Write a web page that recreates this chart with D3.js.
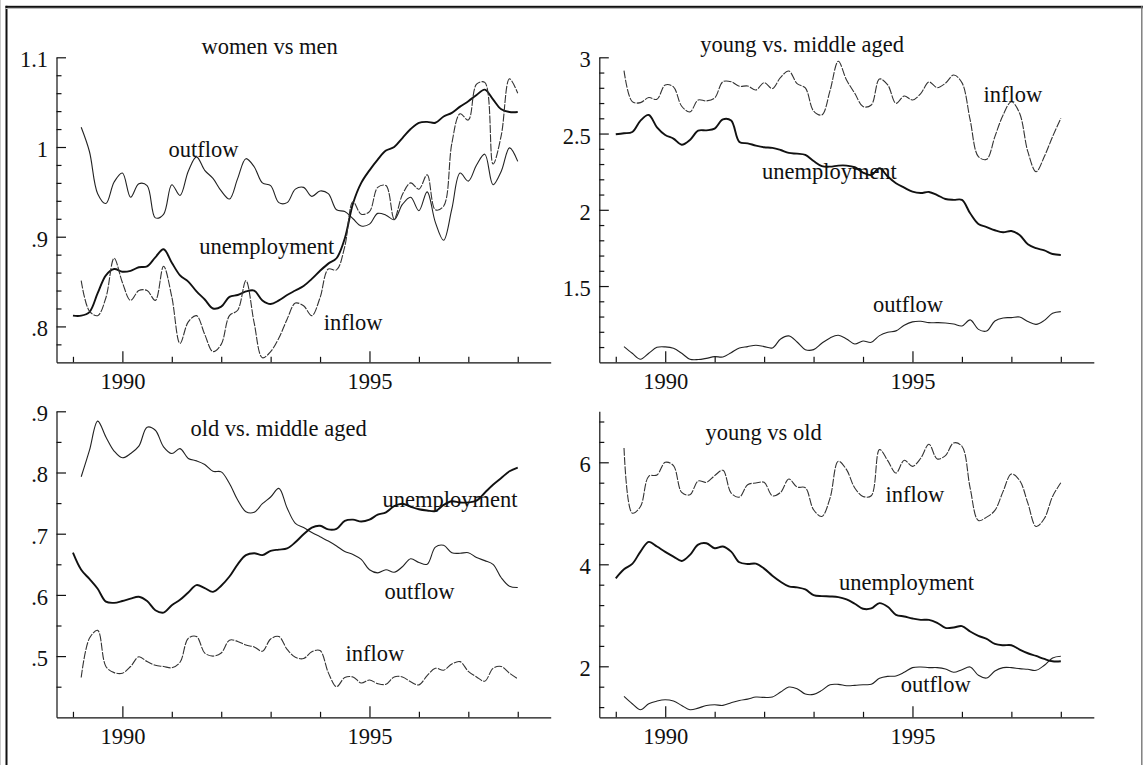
<!DOCTYPE html>
<html>
<head>
<meta charset="utf-8">
<script src="https://cdn.jsdelivr.net/npm/d3@7"></script>
<style>
  body { margin: 0; background: #fff; }
  svg { display: block; }
  text { font-family: "Liberation Serif", "Times New Roman", serif; font-size: 22.5px; fill: #111; }
</style>
</head>
<body>
<script>
// sample dates: every second month, Jan 1989 .. Jan 1998
const years = d3.range(55).map(k => 1989 + k / 6);

// women vs men
const wmUnemp = [.812,.812,.816,.837,.857,.864,.861,.862,.866,.867,.877,.886,.871,.857,.850,.839,.830,.820,.822,.833,.835,.839,.840,.829,.825,.829,.835,.840,.845,.853,.862,.870,.876,.898,.937,.960,.974,.986,.996,1.000,1.010,1.020,1.027,1.028,1.027,1.034,1.038,1.045,1.051,1.058,1.064,1.053,1.042,1.039,1.039];
const wmOutflow = [null,1.022,.995,.948,.937,.961,.971,.944,.959,.957,.921,.925,.958,.946,.973,.989,.974,.965,.951,.942,.965,.987,.978,.960,.957,.938,.938,.953,.955,.945,.951,.948,.930,.928,.920,.912,.914,.926,.924,.919,.936,.944,.929,.950,.916,.896,.931,.971,.962,.980,.992,.958,.973,.999,.984];
const wmInflow = [null,.851,.817,.812,.832,.876,.849,.829,.840,.840,.829,.867,.833,.781,.805,.812,.791,.772,.780,.812,.818,.851,.804,.765,.772,.787,.808,.826,.823,.812,.832,.864,.863,.889,.939,.925,.928,.955,.957,.920,.947,.960,.953,.969,.930,.934,1.004,1.037,1.030,1.070,1.072,.981,1.013,1.076,1.060];

// young vs. middle aged
const ymUnemp = [2.495,2.502,2.510,2.585,2.622,2.541,2.491,2.467,2.427,2.458,2.519,2.521,2.532,2.593,2.585,2.445,2.436,2.421,2.410,2.406,2.392,2.373,2.368,2.360,2.320,2.287,2.283,2.290,2.290,2.279,2.244,2.228,2.272,2.218,2.174,2.145,2.119,2.110,2.117,2.097,2.071,2.065,2.065,1.977,1.907,1.887,1.866,1.853,1.861,1.835,1.774,1.748,1.734,1.710,1.704];
const ymOutflow = [null,1.103,1.059,1.020,1.059,1.098,1.101,1.092,1.059,1.020,1.018,1.026,1.037,1.035,1.063,1.094,1.103,1.112,1.103,1.094,1.153,1.173,1.133,1.083,1.083,1.125,1.160,1.177,1.153,1.120,1.140,1.131,1.175,1.197,1.206,1.243,1.265,1.269,1.260,1.260,1.258,1.251,1.238,1.278,1.216,1.205,1.271,1.291,1.293,1.297,1.267,1.249,1.275,1.321,1.332];
const ymInflow = [null,2.913,2.709,2.703,2.736,2.725,2.819,2.806,2.679,2.642,2.720,2.714,2.733,2.840,2.840,2.810,2.812,2.786,2.834,2.795,2.869,2.910,2.827,2.799,2.648,2.622,2.781,2.974,2.851,2.764,2.677,2.687,2.858,2.819,2.698,2.746,2.720,2.762,2.838,2.801,2.830,2.884,2.834,2.589,2.349,2.331,2.480,2.622,2.709,2.633,2.381,2.250,2.349,2.480,2.600];

// old vs. middle aged
const omUnemp = [.669,.641,.626,.610,.589,.587,.590,.594,.597,.590,.575,.571,.583,.592,.604,.616,.611,.605,.615,.630,.650,.665,.668,.665,.672,.674,.676,.686,.699,.710,.713,.707,.708,.721,.723,.720,.723,.731,.735,.745,.749,.744,.740,.738,.737,.747,.753,.751,.751,.754,.767,.780,.791,.802,.808];
const omOutflow = [null,.793,.836,.884,.858,.835,.824,.831,.843,.874,.869,.842,.831,.839,.823,.819,.813,.802,.801,.782,.755,.736,.735,.749,.760,.774,.742,.717,.710,.702,.695,.688,.680,.671,.666,.658,.641,.636,.641,.637,.646,.659,.653,.650,.678,.681,.669,.668,.669,.661,.656,.650,.628,.614,.612];
const omInflow = [null,.465,.529,.542,.483,.473,.472,.483,.499,.491,.485,.483,.481,.490,.529,.532,.505,.500,.505,.526,.524,.518,.515,.508,.528,.532,.511,.498,.496,.507,.509,.473,.450,.465,.466,.456,.461,.455,.454,.466,.466,.458,.453,.468,.480,.477,.487,.491,.475,.466,.459,.480,.483,.472,.463];

// young vs old
const yoUnemp = [3.725,3.902,4.007,4.249,4.439,4.348,4.243,4.151,4.066,4.184,4.387,4.413,4.315,4.348,4.249,4.039,4.007,4.013,3.915,3.777,3.659,3.567,3.548,3.508,3.397,3.377,3.370,3.357,3.311,3.226,3.128,3.134,3.239,3.167,3.010,2.977,2.938,2.911,2.911,2.852,2.754,2.761,2.787,2.682,2.597,2.538,2.440,2.413,2.413,2.328,2.256,2.203,2.144,2.098,2.098];
const yoOutflow = [null,1.410,1.266,1.148,1.266,1.318,1.344,1.318,1.233,1.148,1.180,1.233,1.246,1.233,1.285,1.331,1.357,1.397,1.390,1.397,1.495,1.593,1.561,1.456,1.449,1.528,1.639,1.646,1.620,1.626,1.639,1.646,1.764,1.803,1.810,1.882,1.974,1.987,1.974,1.974,1.948,1.882,1.934,1.987,1.823,1.770,1.908,1.974,1.974,1.954,1.941,1.921,2.020,2.164,2.197];
const yoInflow = [null,6.282,5.003,5.134,5.725,5.751,6.000,5.934,5.410,5.364,5.633,5.607,5.738,5.843,5.397,5.318,5.561,5.593,5.607,5.344,5.410,5.672,5.515,5.502,5.069,4.938,5.298,6.020,5.856,5.495,5.331,5.344,6.249,6.033,5.790,6.039,5.921,6.079,6.354,6.066,6.131,6.380,6.315,5.495,4.859,4.925,5.056,5.430,5.770,5.646,5.200,4.741,4.898,5.331,5.600];

// tick labels
const yearLabels = [1990, 1995];
const yearMinor = [1989, 1991, 1992, 1993, 1994, 1996, 1997, 1998];
const wmTicks = [.8, .9, 1, 1.1];
const ymTicks = [1.5, 2, 2.5, 3];
const omTicks = [.5, .6, .7, .8, .9];
const yoTicks = [2, 4, 6];

const width = 1143, height = 765;
const xDomain = [1988.667, 1998.667];
const colX = [[56.5, 550.7], [599.3, 1093.8]];
const rowY = [[362.3, 57.3], [717.3, 411.3]];

const panels = [
  { col: 0, row: 0, y: [0.76, 1.1], ticks: wmTicks, minor: [0.78, 1.1, 0.02],
    series: [wmOutflow, wmUnemp, wmInflow],
    notes: [["women vs men", 1992.98, 1.104], ["outflow", 1991.64, 0.989],
            ["unemployment", 1992.92, 0.881], ["inflow", 1994.67, 0.796]] },
  { col: 1, row: 0, y: [1, 3], ticks: ymTicks, minor: [1.1, 3, 0.1],
    series: [ymOutflow, ymUnemp, ymInflow],
    notes: [["young vs. middle aged", 1992.77, 3.035], ["inflow", 1997.03, 2.707],
            ["unemployment", 1993.32, 2.202], ["outflow", 1994.91, 1.33]] },
  { col: 0, row: 1, y: [0.4, 0.9], ticks: omTicks, minor: [0.45, 0.9, 0.05],
    series: [omOutflow, omUnemp, omInflow],
    notes: [["old vs. middle aged", 1993.16, 0.859], ["unemployment", 1996.63, 0.743],
            ["outflow", 1996.01, 0.594], ["inflow", 1995.11, 0.4915]] },
  { col: 1, row: 1, y: [1, 7], ticks: yoTicks, minor: [1.2, 6.9, 0.4],
    series: [yoOutflow, yoUnemp, yoInflow],
    notes: [["young vs old", 1991.99, 6.446], ["inflow", 1995.05, 5.227],
            ["unemployment", 1994.88, 3.497], ["outflow", 1995.47, 1.49]] }
];

// outflow thin solid, unemployment heavy solid, inflow thin fine-dashed
const lineStyle = [
  { w: 1.1, color: "#222", dash: null },
  { w: 1.9, color: "#111", dash: null },
  { w: 1.1, color: "#333", dash: "8,1.3" }
];

const fmt = v => String(v).replace(/^0\./, ".");

const svg = d3.select("body").append("svg")
    .attr("width", width)
    .attr("height", height);

// window-style frame
svg.append("rect").attr("x", 5.5).attr("y", 5.8).attr("width", width).attr("height", 2).attr("fill", "#111");
svg.append("rect").attr("x", 5.5).attr("y", 5.8).attr("width", 2).attr("height", height).attr("fill", "#111");
svg.append("line").attr("x1", 5.5).attr("x2", width).attr("y1", 8.5).attr("y2", 8.5).attr("stroke", "#bbb");
svg.append("line").attr("x1", 0.5).attr("x2", 0.5).attr("y1", 0).attr("y2", height).attr("stroke", "#ccc");
svg.append("line").attr("x1", 1141.8).attr("x2", 1141.8).attr("y1", 6).attr("y2", height).attr("stroke", "#777").attr("stroke-width", 1.4);

panels.forEach(p => {
  const x = d3.scaleLinear().domain(xDomain).range(colX[p.col]);
  const y = d3.scaleLinear().domain(p.y).range(rowY[p.row]);
  const g = svg.append("g");
  const x0 = colX[p.col][0], yb = rowY[p.row][0];

  // y axis: ticks point inward, labels outside
  const ya = g.append("g").attr("transform", `translate(${x0},0)`)
      .call(d3.axisLeft(y).tickValues(p.ticks).tickSizeInner(-9.5).tickSizeOuter(0)
          .tickPadding(8.5).tickFormat(fmt));
  ya.selectAll("text").attr("dy", "0.42em").style("font-size", "22.5px")
      .style("font-family", '"Liberation Serif", serif').attr("fill", "#111");
  const minorY = d3.range(p.minor[0], p.minor[1] + 1e-9, p.minor[2])
      .filter(v => !p.ticks.some(t => Math.abs(t - v) < 1e-6));
  g.append("g").attr("transform", `translate(${x0},0)`)
      .call(d3.axisLeft(y).tickValues(minorY).tickSizeInner(-5).tickSizeOuter(0).tickFormat(""))
      .call(a => a.select(".domain").remove());

  // x axis
  const xa = g.append("g").attr("transform", `translate(0,${yb})`)
      .call(d3.axisBottom(x).tickValues(yearLabels).tickSizeInner(-11).tickSizeOuter(0)
          .tickPadding(11).tickFormat(d3.format("d")));
  xa.selectAll("text").style("font-size", "22.5px")
      .style("font-family", '"Liberation Serif", serif').attr("fill", "#111");
  g.append("g").attr("transform", `translate(0,${yb})`)
      .call(d3.axisBottom(x).tickValues(yearMinor).tickSizeInner(-5.5).tickSizeOuter(0).tickFormat(""))
      .call(a => a.select(".domain").remove());

  g.selectAll(".domain, .tick line").attr("stroke", "#111").attr("stroke-width", 1.2);

  // series
  const line = d3.line()
      .defined(v => v != null)
      .x((v, i) => x(years[i]))
      .y(v => y(v))
      .curve(d3.curveCatmullRom.alpha(0.5));
  p.series.forEach((s, i) => {
    g.append("path")
        .attr("d", line(s))
        .attr("fill", "none")
        .attr("stroke", lineStyle[i].color)
        .attr("stroke-width", lineStyle[i].w)
        .attr("stroke-dasharray", lineStyle[i].dash)
        .attr("stroke-linejoin", "round");
  });

  // titles and series labels
  g.selectAll(".note")
    .data(p.notes)
    .enter().append("text")
      .attr("class", "note")
      .attr("x", d => x(d[1]))
      .attr("y", d => y(d[2]))
      .attr("text-anchor", "middle")
      .text(d => d[0]);
});
</script>
</body>
</html>
